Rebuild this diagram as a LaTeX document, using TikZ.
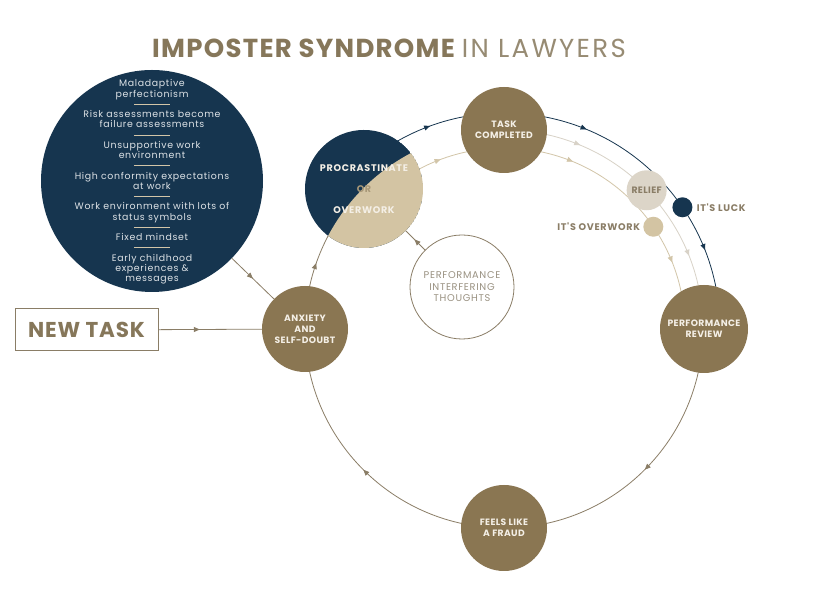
\documentclass[tikz,border=0pt]{standalone}
\usepackage{fontspec}
\setmainfont{Poppins}
\newfontfamily\capsfont[LetterSpace=4]{Poppins}
\newfontfamily\widefont[LetterSpace=7]{Poppins}
\newfontfamily\titlefont[LetterSpace=5]{Poppins}
\newfontfamily\titlethin[LetterSpace=9]{Poppins}
\usetikzlibrary{arrows.meta,decorations.markings}
\definecolor{navy}{HTML}{16354F}
\definecolor{brownfill}{HTML}{8A7652}
\definecolor{lineb}{HTML}{8A7D66}
\definecolor{tanc}{HTML}{D3C4A3}
\definecolor{tanline}{HTML}{D2C5A8}
\definecolor{relc}{HTML}{DCD5C8}
\definecolor{relline}{HTML}{D8D2C7}
\definecolor{titlec}{HTML}{86775A}
\definecolor{titlelight}{HTML}{978B73}
\definecolor{nodetext}{HTML}{F4EFE6}
\definecolor{pitc}{HTML}{9A9282}
\definecolor{causetext}{HTML}{DDE2E6}
\definecolor{orc}{HTML}{A89878}
\newcommand\mytri{\arrow{Triangle[length=6pt,width=5pt]}}
\tikzset{
  stage/.style={circle, fill=brownfill, minimum size=86pt, inner sep=0pt,
    text=nodetext, font=\capsfont\bfseries\fontsize{9.2}{11}\selectfont, align=center},
  ring/.style={line width=0.8pt},
  smalllabel/.style={text=lineb, font=\widefont\bfseries\fontsize{9.6}{11}\selectfont, inner sep=0pt},
}
\begin{document}
\begin{tikzpicture}[x=1pt,y=1pt]
\useasboundingbox (0,0) rectangle (820,609);
\fill[white] (0,0) rectangle (820,609);
\coordinate (C) at (504,280);

% title
\node (title) at (389,561) {\fontsize{26}{26}\selectfont\color{titlec}\titlefont\bfseries IMPOSTER SYNDROME \titlethin\mdseries\color{titlelight}IN LAWYERS};

% rings
\draw[lineb, ring, postaction={decorate}, decoration={markings, mark=at position 0.43 with {\mytri}}]
  ([shift={(180:199pt)}]C) arc[start angle=180, end angle=135, radius=199pt];
\draw[lineb, ring, postaction={decorate}, decoration={markings, mark=at position 0.5 with {\mytri}}]
  ([shift={(270:199pt)}]C) arc[start angle=270, end angle=180, radius=199pt];
\draw[lineb, ring, postaction={decorate}, decoration={markings, mark=at position 0.5 with {\mytri}}]
  ([shift={(360:199pt)}]C) arc[start angle=360, end angle=270, radius=199pt];
\draw[relline, ring, postaction={decorate}, decoration={markings, mark=at position 0.25 with {\mytri}, mark=at position 0.76 with {\mytri}}]
  ([shift={(90:199pt)}]C) arc[start angle=90, end angle=0, radius=199pt];
\draw[tanline, ring, postaction={decorate}, decoration={markings, mark=at position 0.15 with {\mytri}, mark=at position 0.48 with {\mytri}, mark=at position 0.834 with {\mytri}}]
  ([shift={(130:181pt)}]C) arc[start angle=130, end angle=0, radius=181pt];
\draw[navy, ring, postaction={decorate}, decoration={markings, mark=at position 0.125 with {\mytri}, mark=at position 0.479 with {\mytri}, mark=at position 0.863 with {\mytri}}]
  ([shift={(125:216pt)}]C) arc[start angle=125, end angle=5, radius=216pt];

% causes circle
\node[circle, fill=navy, minimum size=222pt, inner sep=0pt] (causes) at (152,428) {};
\node[align=center, text=causetext, font=\widefont\fontsize{9.4}{10.26}\selectfont, inner sep=0pt] (causestext) at (152,427) {%
Maladaptive\\perfectionism\\
\textcolor{tanline}{\rule[2.6pt]{36pt}{0.9pt}}\\
Risk assessments become\\failure assessments\\
\textcolor{tanline}{\rule[2.6pt]{36pt}{0.9pt}}\\
Unsupportive work\\environment\\
\textcolor{tanline}{\rule[2.6pt]{36pt}{0.9pt}}\\
High conformity expectations\\at work\\
\textcolor{tanline}{\rule[2.6pt]{36pt}{0.9pt}}\\
Work environment with lots of\\status symbols\\
\textcolor{tanline}{\rule[2.6pt]{36pt}{0.9pt}}\\
Fixed mindset\\
\textcolor{tanline}{\rule[2.6pt]{36pt}{0.9pt}}\\
Early childhood\\experiences \&\\messages};

% procrastinate / overwork circle
\coordinate (P) at ([shift={(135:198pt)}]C);
\begin{scope}
  \clip (P) circle (59pt);
  \fill[navy] (P) circle (59pt);
  \fill[tanc] (C) circle (199pt);
\end{scope}
\node[circle, minimum size=118pt, inner sep=0pt, align=center, text=nodetext, font=\widefont\bfseries\fontsize{9.6}{11}\selectfont] (proc) at (P)
  {PROCRASTINATE\\[10pt]\textcolor{orc}{OR}\\[10pt]OVERWORK};

% stages
\node[stage] (anx) at ([shift={(180:199pt)}]C) {ANXIETY\\AND\\SELF-DOUBT};
\node[stage] (task) at ([shift={(90:199pt)}]C) {TASK\\COMPLETED};
\node[stage, minimum size=88pt] (review) at ([shift={(0:200pt)}]C) {PERFORMANCE\\REVIEW};
\node[stage] (fraud) at ([shift={(270:199pt)}]C) {FEELS LIKE\\A FRAUD};

% relief and outcomes
\node[circle, fill=relc, minimum size=40pt, inner sep=0pt, text=lineb, font=\capsfont\bfseries\fontsize{9.3}{10}\selectfont] (relief) at ([shift={(44.2:199pt)}]C) {RELIEF};
\node[circle, fill=navy, minimum size=20pt, inner sep=0pt] (luck) at ([shift={(34.3:216pt)}]C) {};
\node[circle, fill=tanc, minimum size=20pt, inner sep=0pt] (owdot) at ([shift={(34.4:181pt)}]C) {};
\node[smalllabel, anchor=west] (lucklabel) at ([xshift=4pt]luck.east) {IT'S LUCK};
\node[smalllabel, anchor=east] (owlabel) at ([xshift=-3pt]owdot.west) {IT'S OVERWORK};

% performance interfering thoughts
\node[circle, draw=lineb, line width=0.8pt, fill=white, minimum size=104pt, inner sep=0pt, align=center, text=pitc, font=\widefont\fontsize{9.8}{11.5}\selectfont] (pit) at (462,322) {PERFORMANCE\\INTERFERING\\THOUGHTS};
\draw[lineb, ring, postaction={decorate}, decoration={markings, mark=at position 0.55 with {\mytri}}] (pit) -- (proc);

% new task
\node[draw=lineb, line width=1pt, minimum width=143pt, minimum height=42pt, text=titlec, font=\capsfont\bfseries\fontsize{21.5}{22}\selectfont] (newtask) at (86.5,279) {NEW TASK};
\draw[lineb, ring, postaction={decorate}, decoration={markings, mark=at position 0.4 with {\mytri}}] (newtask) -- (anx);
\draw[lineb, ring, postaction={decorate}, decoration={markings, mark=at position 0.5 with {\mytri}}] (causes) -- (anx);
\end{tikzpicture}
\end{document}
